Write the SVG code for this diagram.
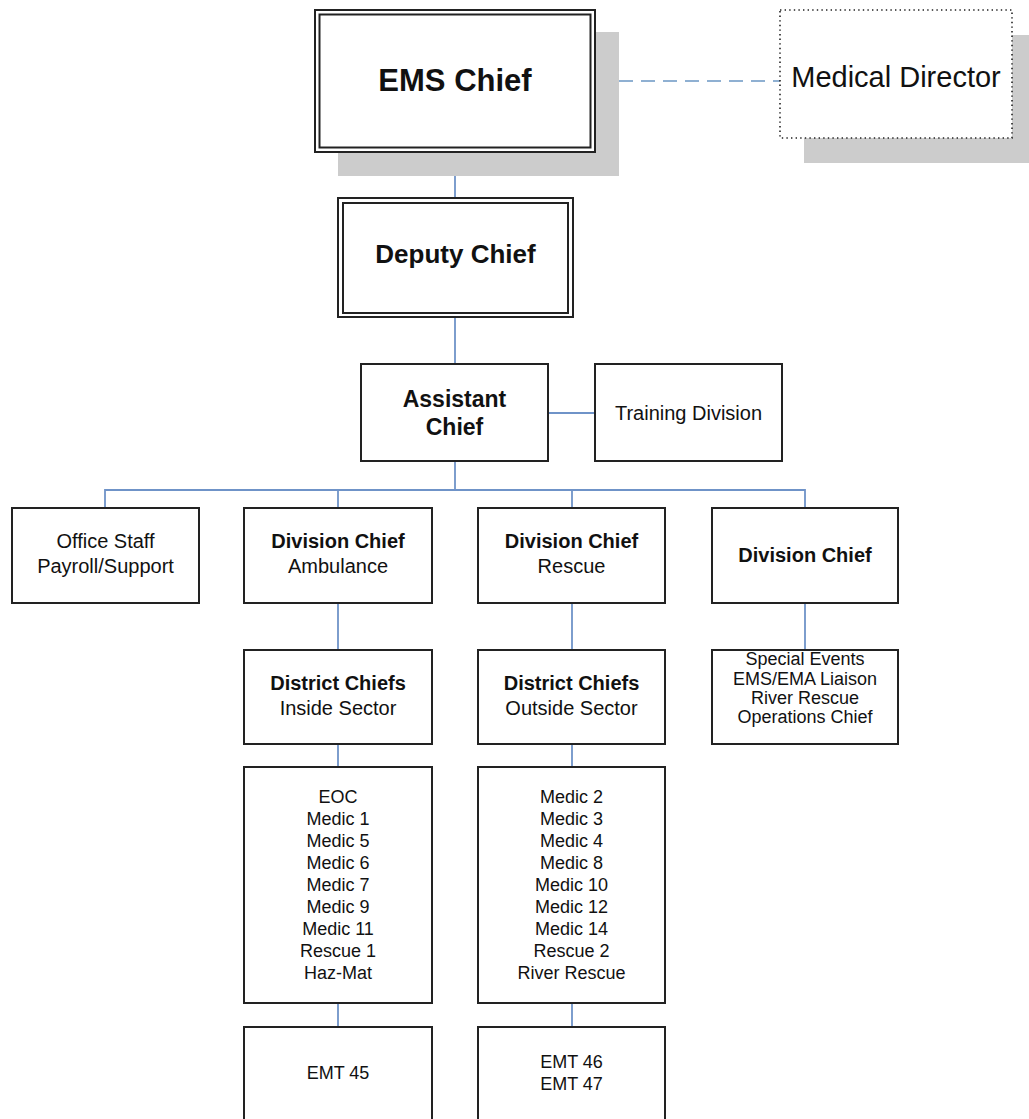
<svg xmlns="http://www.w3.org/2000/svg" width="1029" height="1119" viewBox="0 0 1029 1119">
<style>
  .box { fill: #ffffff; stroke: #222222; stroke-width: 2; }
  .shadow { fill: #cccccc; stroke: none; }
  .dotted { fill: #ffffff; stroke: #222222; stroke-width: 1.6; stroke-dasharray: 1.4 3.2; }
  .conn { fill: none; stroke: #6f93c8; stroke-width: 1.8; }
  .dash { fill: none; stroke: #8fb0d2; stroke-width: 1.8; stroke-dasharray: 14 8; }
  text { font-family: "Liberation Sans", Arial, sans-serif; fill: #111111; text-anchor: middle; }
  .b { font-weight: bold; }
  .t20 { font-size: 20px; }
  .t18 { font-size: 18px; }
</style>
<rect width="1029" height="1119" fill="#ffffff"/>

<g id="connectors">
  <line class="dash" x1="597" y1="81" x2="780" y2="81"/>
  <line class="conn" x1="455" y1="153" x2="455" y2="198"/>
  <line class="conn" x1="455" y1="317" x2="455" y2="364"/>
  <line class="conn" x1="548" y1="413" x2="595" y2="413"/>
  <line class="conn" x1="455" y1="461" x2="455" y2="490"/>
  <polyline class="conn" points="105,508 105,490 805,490 805,508"/>
  <line class="conn" x1="338" y1="490" x2="338" y2="508"/>
  <line class="conn" x1="572" y1="490" x2="572" y2="508"/>
  <line class="conn" x1="338" y1="603" x2="338" y2="650"/>
  <line class="conn" x1="572" y1="603" x2="572" y2="650"/>
  <line class="conn" x1="805" y1="603" x2="805" y2="650"/>
  <line class="conn" x1="338" y1="744" x2="338" y2="767"/>
  <line class="conn" x1="572" y1="744" x2="572" y2="767"/>
  <line class="conn" x1="338" y1="1003" x2="338" y2="1027"/>
  <line class="conn" x1="572" y1="1003" x2="572" y2="1027"/>
</g>

<g id="ems-chief">
  <rect class="shadow" x="338" y="32" width="281" height="144"/>
  <rect class="box" x="315" y="10" width="280" height="142"/>
  <rect class="box" x="319.5" y="14.5" width="271" height="133"/>
  <text class="b" x="455" y="91" font-size="31">EMS Chief</text>
</g>

<g id="medical-director">
  <rect class="shadow" x="804" y="35" width="230" height="128"/>
  <rect class="dotted" x="780" y="10" width="232" height="128"/>
  <text x="896" y="87" font-size="29">Medical Director</text>
</g>

<g id="deputy-chief">
  <rect class="box" x="338" y="198" width="235" height="119"/>
  <rect class="box" x="343" y="203" width="225" height="110"/>
  <text class="b" x="455.5" y="263" font-size="26">Deputy Chief</text>
</g>

<g id="assistant-chief">
  <rect class="box" x="361" y="364" width="187" height="97"/>
  <text class="b" x="454.5" y="407" font-size="23">Assistant</text>
  <text class="b" x="454.5" y="435" font-size="23">Chief</text>
</g>

<g id="training-division">
  <rect class="box" x="595" y="364" width="187" height="97"/>
  <text class="t20" x="688.5" y="420">Training Division</text>
</g>

<g id="office-staff">
  <rect class="box" x="12" y="508" width="187" height="95"/>
  <text class="t20" x="105.5" y="548">Office Staff</text>
  <text class="t20" x="105.5" y="573">Payroll/Support</text>
</g>

<g id="division-chief-ambulance">
  <rect class="box" x="244" y="508" width="188" height="95"/>
  <text class="t20 b" x="338" y="548">Division Chief</text>
  <text class="t20" x="338" y="573">Ambulance</text>
</g>

<g id="division-chief-rescue">
  <rect class="box" x="478" y="508" width="187" height="95"/>
  <text class="t20 b" x="571.5" y="548">Division Chief</text>
  <text class="t20" x="571.5" y="573">Rescue</text>
</g>

<g id="division-chief">
  <rect class="box" x="712" y="508" width="186" height="95"/>
  <text class="t20 b" x="805" y="562">Division Chief</text>
</g>

<g id="district-chiefs-inside">
  <rect class="box" x="244" y="650" width="188" height="94"/>
  <text class="t20 b" x="338" y="690">District Chiefs</text>
  <text class="t20" x="338" y="715">Inside Sector</text>
</g>

<g id="district-chiefs-outside">
  <rect class="box" x="478" y="650" width="187" height="94"/>
  <text class="t20 b" x="571.5" y="690">District Chiefs</text>
  <text class="t20" x="571.5" y="715">Outside Sector</text>
</g>

<g id="special-events">
  <rect class="box" x="712" y="650" width="186" height="94"/>
  <text class="t18" x="805" y="665">Special Events</text>
  <text class="t18" x="805" y="685">EMS/EMA Liaison</text>
  <text class="t18" x="805" y="704">River Rescue</text>
  <text class="t18" x="805" y="723">Operations Chief</text>
</g>

<g id="inside-units">
  <rect class="box" x="244" y="767" width="188" height="236"/>
  <text class="t18" x="338" y="803">EOC</text>
  <text class="t18" x="338" y="825">Medic 1</text>
  <text class="t18" x="338" y="847">Medic 5</text>
  <text class="t18" x="338" y="869">Medic 6</text>
  <text class="t18" x="338" y="891">Medic 7</text>
  <text class="t18" x="338" y="913">Medic 9</text>
  <text class="t18" x="338" y="935">Medic 11</text>
  <text class="t18" x="338" y="957">Rescue 1</text>
  <text class="t18" x="338" y="979">Haz-Mat</text>
</g>

<g id="outside-units">
  <rect class="box" x="478" y="767" width="187" height="236"/>
  <text class="t18" x="571.5" y="803">Medic 2</text>
  <text class="t18" x="571.5" y="825">Medic 3</text>
  <text class="t18" x="571.5" y="847">Medic 4</text>
  <text class="t18" x="571.5" y="869">Medic 8</text>
  <text class="t18" x="571.5" y="891">Medic 10</text>
  <text class="t18" x="571.5" y="913">Medic 12</text>
  <text class="t18" x="571.5" y="935">Medic 14</text>
  <text class="t18" x="571.5" y="957">Rescue 2</text>
  <text class="t18" x="571.5" y="979">River Rescue</text>
</g>

<g id="emt-45">
  <rect class="box" x="244" y="1027" width="188" height="110"/>
  <text class="t18" x="338" y="1079">EMT 45</text>
</g>

<g id="emt-46-47">
  <rect class="box" x="478" y="1027" width="187" height="110"/>
  <text class="t18" x="571.5" y="1068">EMT 46</text>
  <text class="t18" x="571.5" y="1090">EMT 47</text>
</g>
</svg>
